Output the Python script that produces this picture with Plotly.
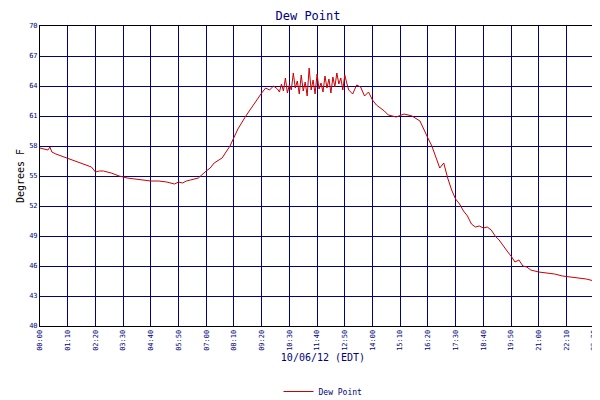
import plotly.graph_objects as go

minutes = [0,10,20,25,30,40,60,80,100,120,130,140,150,160,180,200,220,240,260,280,300,320,340,350,360,370,380,400,420,430,440,460,480,500,520,540,550,560,570,580,
 590,600,605,610,615,620,625,630,635,640,645,650,655,660,665,670,675,680,685,690,695,700,705,710,715,720,725,730,735,740,745,750,755,760,765,770,775,780,
 790,800,810,820,830,840,850,860,870,880,900,920,940,960,970,980,990,1000,1010,1020,1030,1040,1050,1060,1070,1080,1090,1100,1110,1120,1130,1140,1150,1160,
 1170,1180,1190,1200,1210,1220,1230,1240,1260,1280,1300,1320,1340,1360,1380,1400,1420,1430]
dew = [57.8,57.7,57.6,57.9,57.4,57.2,56.9,56.6,56.3,56.0,55.9,55.4,55.5,55.5,55.3,55.0,54.8,54.7,54.6,54.5,54.5,54.4,54.2,54.4,54.3,54.5,54.6,54.8,55.5,55.8,56.3,56.8,58.0,59.7,61.0,62.2,62.8,63.3,63.8,63.6,
 64.0,63.7,63.4,64.2,63.5,64.8,63.3,64.1,63.6,65.3,63.8,64.5,63.2,65.1,63.5,64.4,63.0,65.8,63.6,64.6,63.2,65.2,63.7,64.3,63.4,65.0,63.8,64.7,63.3,64.9,63.9,65.3,64.2,64.8,63.6,65.1,64.3,63.6,
 63.2,64.1,63.9,63.0,63.4,62.6,62.1,61.8,61.5,61.1,60.9,61.2,61.0,60.5,59.6,58.8,58.0,57.0,55.8,56.3,54.8,53.6,52.7,52.2,51.5,51.0,50.2,49.9,50.0,49.8,49.9,49.6,49.0,48.6,
 48.0,47.5,47.0,46.4,46.6,46.0,45.9,45.6,45.4,45.3,45.2,45.0,44.9,44.8,44.7,44.5,44.4,44.2]

tickmins = list(range(0, 1401, 70)) + [1430]
ticktext = ["%02d:%02d" % (m // 60, m % 60) for m in tickmins]

navy = "#000080"
fig = go.Figure(go.Scatter(x=minutes, y=dew, mode="lines", name="Dew Point",
                           line=dict(color="#cc0000", width=1)))
fnt = dict(family="DejaVu Sans Mono", size=7, color=navy)
fig.update_layout(
    width=600, height=400, margin=dict(l=32, r=2, t=18, b=63),
    paper_bgcolor="white", plot_bgcolor="white",
    title=dict(text="Dew Point", x=0.5, y=0.99, xanchor="center", yanchor="top",
               font=dict(family="DejaVu Sans Mono", size=12, color=navy)),
    showlegend=True,
    legend=dict(orientation="h", x=0.5, xanchor="center", y=-0.17, yanchor="top",
                font=dict(family="DejaVu Sans Mono", size=8, color=navy)),
    xaxis=dict(range=[0, 1430], tickvals=tickmins, ticktext=ticktext, tickangle=-90,
               tickfont=fnt, showgrid=True, gridcolor=navy, gridwidth=1, automargin=False,
               showline=True, linecolor="black", mirror=True, zeroline=False,
               title=dict(text="10/06/12 (EDT)", standoff=4,
                          font=dict(family="DejaVu Sans Mono", size=10, color=navy))),
    yaxis=dict(range=[40, 70], dtick=3, tick0=40, tickfont=fnt, showgrid=True,
               gridcolor=navy, gridwidth=1, showline=True, linecolor="black", mirror=True,
               zeroline=False, automargin=False,
               title=dict(text="Degrees F", standoff=2,
                          font=dict(family="DejaVu Sans Mono", size=10, color="black"))),
)
fig.write_html("out.html")
